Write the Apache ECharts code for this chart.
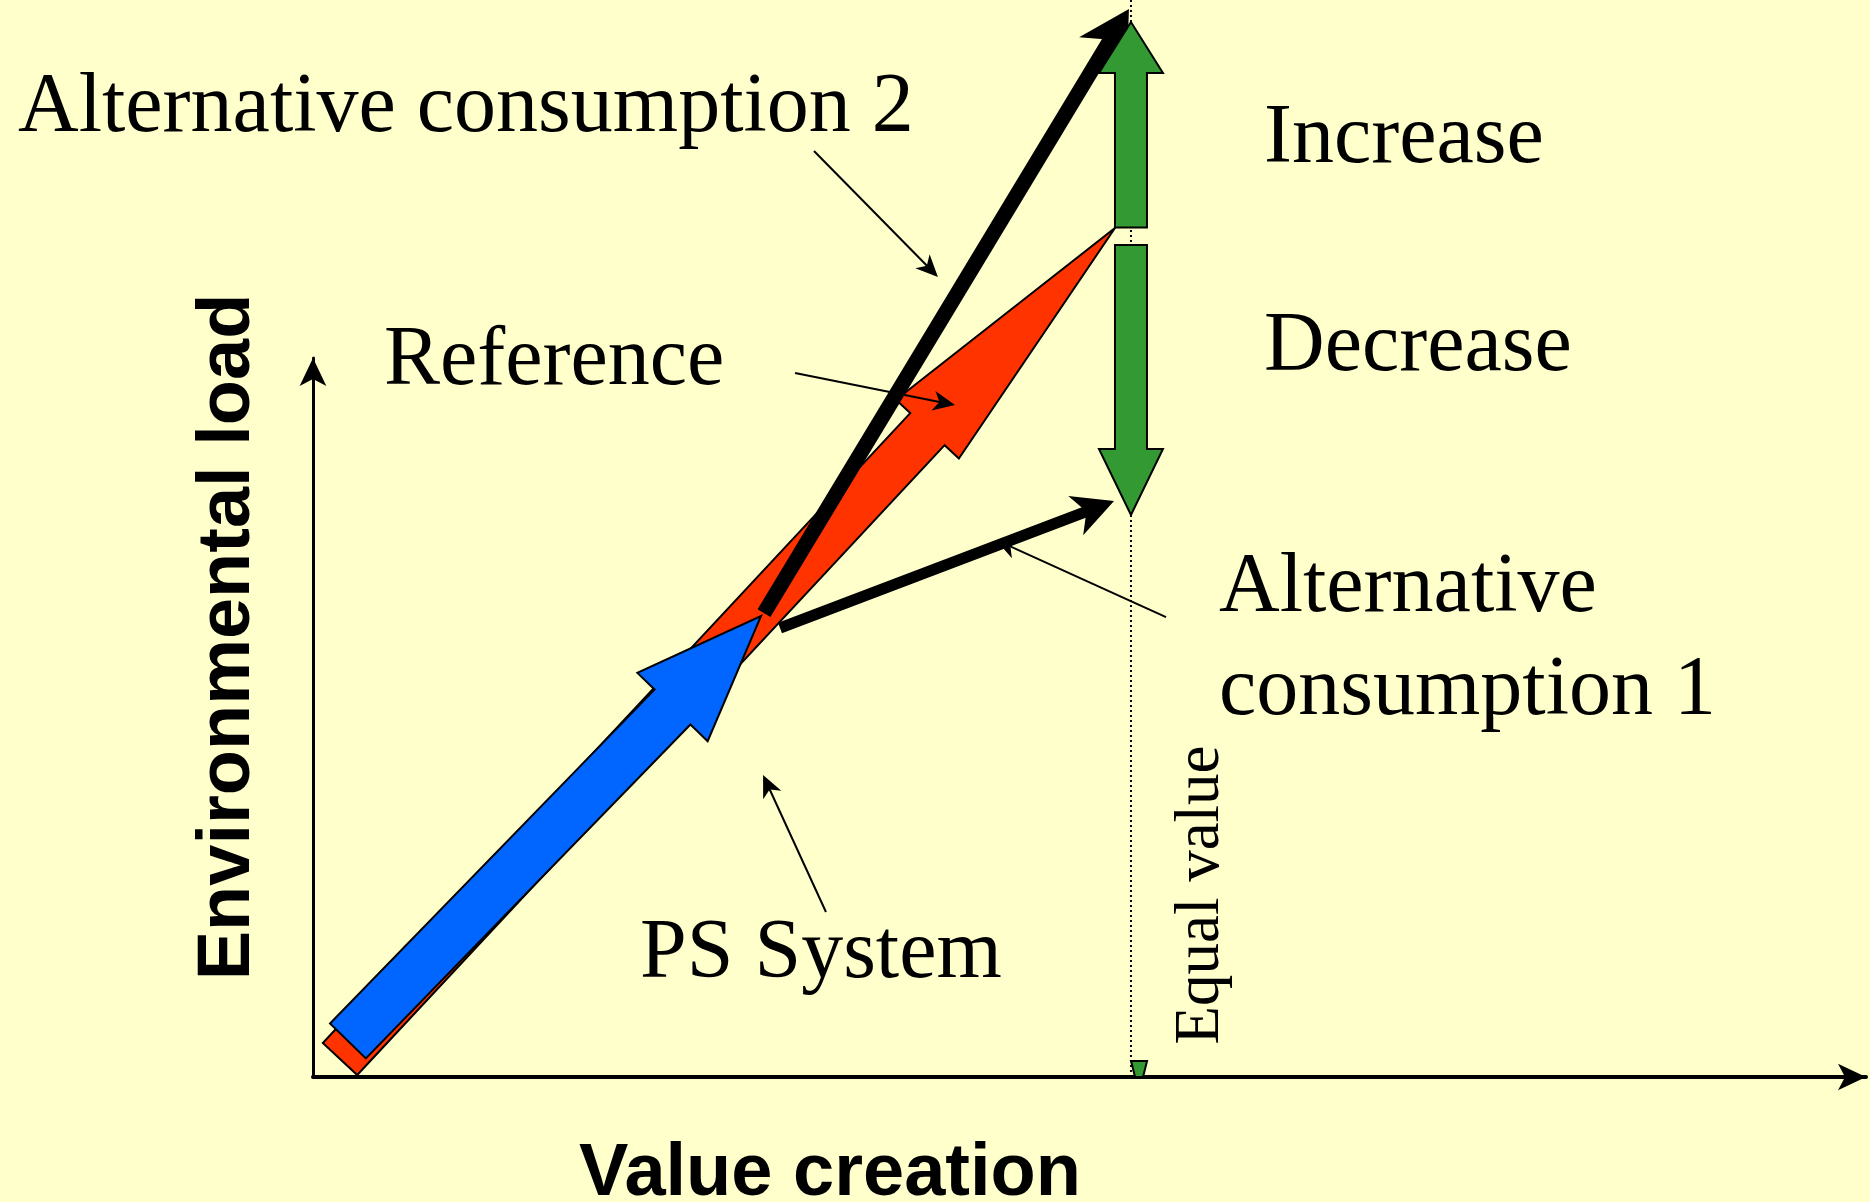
<!DOCTYPE html>
<html><head><meta charset="utf-8">
<script src="https://cdn.jsdelivr.net/npm/echarts@6/dist/echarts.min.js"></script>
<style>html,body{margin:0;padding:0;background:#FFFFCC}#c{width:1870px;height:1202px}</style>
</head><body><div id="c"></div>
<script>
// ---- data (value-creation units on x, environmental-load units on y) ----
// each arrow: [x start, y start, x end (tip), y end (tip)]
const psSystemArrow   = [2.25, 5.01, 28.85, 64.12];
const referenceArrow  = [1.74, 2.50, 51.64, 118.08];
const alternative1    = [30.07, 62.45, 51.58, 80.11];
const alternative2    = [29.04, 64.53, 52.54, 148.54];
const increaseArrow   = [52.67, 118.15, 52.67, 146.73];
const decreaseArrow   = [52.67, 115.72, 52.67, 78.16];
const equalValueLine  = [52.67, 149.8, 52.67, 0];
const equalValueTip   = [53.19, 2.23, 53.19, 0];
const calloutArrows   = [
  [32.26, 128.79, 40.24, 111.27],  // -> Alternative consumption 2
  [31.04, 97.91, 41.34, 93.46],    // -> Reference
  [54.93, 63.96, 43.98, 74.69],    // -> Alternative consumption 1
  [33.03, 22.95, 28.98, 42.00]     // -> PS System
];
const axisNames = ['Value creation', 'Environmental load'];
const labelTexts = ['Alternative consumption 2', 'Increase', 'Decrease', 'Reference',
  'Alternative', 'consumption 1', 'PS System', 'Equal value'];

// ---- drawing helpers ----
function geom(api) {
  const a = api.coord([api.value(0), api.value(1)]);
  const b = api.coord([api.value(2), api.value(3)]);
  const dx = b[0] - a[0], dy = b[1] - a[1];
  const len = Math.sqrt(dx * dx + dy * dy);
  const u = [dx / len, dy / len];
  const n = [-u[1], u[0]];
  return {a, b, u, n, len};
}
function pt(p, u, n, along, across) {
  return [p[0] + u[0] * along + n[0] * across, p[1] + u[1] * along + n[1] * across];
}
function blockArrow(st) {
  return function (params, api) {
    const g = geom(api);
    const base = pt(g.b, g.u, g.n, -st.head, 0);
    const pts = [
      pt(g.a, g.u, g.n, 0, st.shaft), pt(base, g.u, g.n, 0, st.shaft), pt(base, g.u, g.n, 0, st.half),
      g.b,
      pt(base, g.u, g.n, 0, -st.half), pt(base, g.u, g.n, 0, -st.shaft), pt(g.a, g.u, g.n, 0, -st.shaft)
    ];
    return {type: 'polygon', shape: {points: pts}, style: {fill: st.fill, stroke: '#000', lineWidth: 2, lineJoin: 'miter'}};
  };
}
function lineArrow(st) {
  return function (params, api) {
    const g = geom(api);
    const notch = pt(g.b, g.u, g.n, -st.head * 0.72, 0);
    const shaftEnd = pt(g.b, g.u, g.n, -st.head * 0.6, 0);
    return {type: 'group', children: [
      {type: 'line', shape: {x1: g.a[0], y1: g.a[1], x2: shaftEnd[0], y2: shaftEnd[1]},
        style: {stroke: '#000', lineWidth: st.width, lineCap: 'butt'}},
      {type: 'polygon', shape: {points: [g.b, pt(g.b, g.u, g.n, -st.head, st.half), notch, pt(g.b, g.u, g.n, -st.head, -st.half)]},
        style: {fill: '#000'}}
    ]};
  };
}
function dottedLine(params, api) {
  const g = geom(api);
  return {type: 'line', shape: {x1: g.a[0], y1: g.a[1], x2: g.b[0], y2: g.b[1]},
    style: {stroke: '#000', lineWidth: 2, lineDash: [2, 3]}};
}
function tipMarker(params, api) {
  const g = geom(api);
  return {type: 'polygon', shape: {points: [
    pt(g.a, g.u, g.n, 0, 8), pt(g.b, g.u, g.n, 0, 4), pt(g.b, g.u, g.n, 0, -4), pt(g.a, g.u, g.n, 0, -8)]},
    style: {fill: '#339933', stroke: '#000', lineWidth: 2}};
}
function series(data, render, z) {
  return {type: 'custom', data: [data], renderItem: render, z: z, clip: false,
    encode: {x: [0, 2], y: [1, 3]}, silent: true};
}

const chart = echarts.init(document.getElementById('c'), null, {renderer: 'canvas'});
const serif = '"Liberation Serif", "Times New Roman", serif';
const sans = '"Liberation Sans", Arial, sans-serif';
function label(text, x, y, opts) {
  return Object.assign({type: 'text', x: x, y: y, z: 100, style: {text: text, fontFamily: serif, fontSize: 84,
    fill: '#000', align: 'left', verticalAlign: 'middle'}}, opts || {});
}
const texts = [
  label(labelTexts[0], 18, 109),
  label(labelTexts[1], 1264, 140),
  label(labelTexts[2], 1264, 348),
  label(labelTexts[3], 384, 362),
  label(labelTexts[4], 1219, 589),
  label(labelTexts[5], 1219, 692),
  label(labelTexts[6], 640, 955),
  {type: 'text', x: 1201, y: 895, rotation: Math.PI / 2, z: 100,
    style: {text: labelTexts[7], fontFamily: serif, fontSize: 63, fill: '#000', align: 'center', verticalAlign: 'middle'}},
  {type: 'text', x: 830, y: 1175, z: 100,
    style: {text: axisNames[0], fontFamily: sans, fontWeight: 'bold', fontSize: 74, fill: '#000', align: 'center', verticalAlign: 'middle'}},
  {type: 'text', x: 229, y: 637, rotation: Math.PI / 2, z: 100,
    style: {text: axisNames[1], fontFamily: sans, fontWeight: 'bold', fontSize: 74, fill: '#000', align: 'center', verticalAlign: 'middle'}}
];

const axisCommon = {type: 'value', min: 0, max: 100, splitLine: {show: false}, axisTick: {show: false},
  axisLabel: {show: false}, axisLine: {show: true, symbol: ['none', 'arrow'], symbolSize: [20, 28],
  lineStyle: {color: '#000', width: 4}}};

chart.setOption({
  backgroundColor: '#FFFFCC',
  animation: false,
  grid: {left: 313, right: 4, top: 358, bottom: 125},
  xAxis: Object.assign({}, axisCommon),
  yAxis: Object.assign({}, axisCommon, {axisLine: Object.assign({}, axisCommon.axisLine, {lineStyle: {color: '#000', width: 3}})}),
  graphic: texts,
  series: [
    series(equalValueLine, dottedLine, 1),
    series(equalValueTip, tipMarker, 2),
    series(referenceArrow, blockArrow({fill: '#FF3300', shaft: 23.5, half: 43, head: 275}), 3),
    series(psSystemArrow, blockArrow({fill: '#0066FF', shaft: 25, half: 49, head: 127}), 4),
    series(alternative1, lineArrow({width: 11, head: 41, half: 21}), 5),
    series(alternative2, lineArrow({width: 15, head: 50, half: 28}), 6),
    series(increaseArrow, blockArrow({fill: '#339933', shaft: 16, half: 32, head: 51}), 7),
    series(decreaseArrow, blockArrow({fill: '#339933', shaft: 16, half: 32, head: 66}), 8),
    {type: 'custom', data: calloutArrows, renderItem: lineArrow({width: 2, head: 22, half: 10}), z: 9, clip: false,
      encode: {x: [0, 2], y: [1, 3]}, silent: true}
  ]
});
</script></body></html>
